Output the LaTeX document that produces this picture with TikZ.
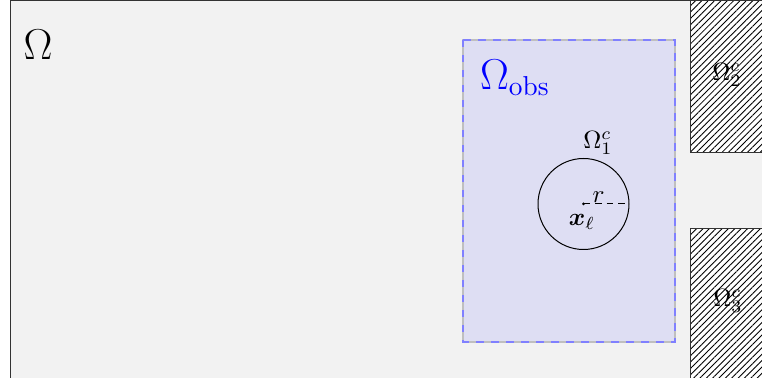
\documentclass[tikz,border=0pt]{standalone}
\usepackage{amsmath}
\usepackage{amssymb}
\usepackage{bm}
\usepackage{tikz}
\usetikzlibrary{patterns.meta,positioning}

\definecolor{obsfill}{RGB}{222,222,243}

\begin{document}
\begin{tikzpicture}[
    x=0.4pt, y=-0.4pt,
    outerdomain/.style={draw=black!80, fill=gray!10},
    obstacle/.style={draw=black!80, fill=white, pattern={Lines[angle=45, distance=1.8pt, line width=0.35pt]}},
    obsregion/.style={draw=blue!50, dashed, semithick},
    radline/.style={dash pattern=on 2.6pt off 2pt},
    biglabel/.style={font=\fontsize{16}{19}\selectfont},
    txtlabel/.style={font=\normalsize}
]
\useasboundingbox (0,0) rectangle (762,378);

% Domain
\begin{scope}
\clip (0,0) rectangle (762,378);
\draw[outerdomain] (10,1) rectangle (800,420);
\fill[white] (690,1) rectangle (800,153);
\fill[white] (690,229) rectangle (800,420);
\draw[obstacle] (690,1) rectangle (800,153);
\draw[obstacle] (690,229) rectangle (800,420);
\end{scope}

% Observation region
\fill[obsfill] (463,40) rectangle (675,342);
\draw[gray!50, semithick] (463,40) rectangle (675,342);
\draw[obsregion] (463,40) rectangle (675,342);

% Nodes
\node[biglabel]              (omega)  at (38,45)   {$\Omega$};
\node[biglabel, text=blue]   (omobs)  at (515,78)  {$\Omega_{\mathrm{obs}}$};
\node[txtlabel]              (om2)    at (727,75)  {$\Omega_2^c$};
\node[txtlabel]              (om3)    at (728,301) {$\Omega_3^c$};
\node[txtlabel]              (om1)    at (598,143) {$\Omega_1^c$};

% Obstacle circle
\coordinate (xl)   at (583.5,204);
\coordinate (redge) at (629,204);
\draw (xl) circle[radius=45.5];
\fill (xl) circle[radius=1.5];
\draw[radline] (xl) -- node[pos=0.33, above=-3pt, txtlabel] {$r$} (redge);
\node[txtlabel] (xllab) at (582,222) {$\bm{x}_\ell$};

\end{tikzpicture}
\end{document}
